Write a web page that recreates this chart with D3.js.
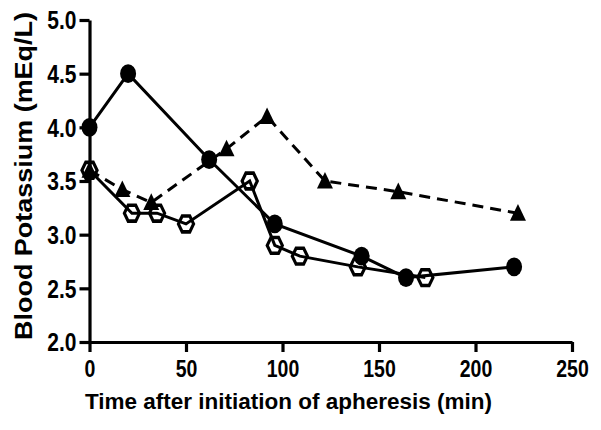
<!DOCTYPE html>
<html><head><meta charset="utf-8">
<script src="https://cdn.jsdelivr.net/npm/d3@7"></script>
<style>body{margin:0;background:#fff}svg{display:block}text{font-family:"Liberation Sans",Arial,sans-serif;font-weight:bold;fill:#000}</style>
</head><body><svg id="c" width="601" height="430"></svg>
<script>
const xTicks = [0, 50, 100, 150, 200, 250];
const yTicks = [2.0, 2.5, 3.0, 3.5, 4.0, 4.5, 5.0];
const circleX = [0, 20, 62, 96, 141, 164, 220];
const circleY = [4.0, 4.5, 3.7, 3.1, 2.8, 2.6, 2.7];
const triX = [0, 17, 32, 71, 92, 122, 160, 222];
const triY = [3.6, 3.42, 3.3, 3.8, 4.1, 3.5, 3.4, 3.2];
const hexX = [0, 22, 35, 50, 83, 96, 109, 139, 174];
const hexY = [3.6, 3.2, 3.2, 3.1, 3.5, 2.9, 2.8, 2.7, 2.6];
const xLabel = "Time after initiation of apheresis (min)";
const yLabel = "Blood Potassium (mEq/L)";

const svg = d3.select("#c");
const x = d3.scaleLinear().domain([0, 250]).range([89.5, 572]);
const y = d3.scaleLinear().domain([2, 5]).range([342, 20]);

// axes
const gx = svg.append("g").attr("transform", `translate(0,${y(2)})`)
  .call(d3.axisBottom(x).tickValues(xTicks).tickSize(10).tickSizeOuter(0).tickFormat(d3.format("d")));
gx.selectAll("text").attr("y", null).attr("dy", null)
  .attr("transform", "translate(0,34.8) scale(1,1.22)").attr("font-size", 19.5);
const gy = svg.append("g").attr("transform", `translate(${x(0)},0)`)
  .call(d3.axisLeft(y).tickValues(yTicks).tickSize(10).tickSizeOuter(0).tickFormat(d3.format(".1f")));
gy.selectAll("text").attr("x", null).attr("dy", null)
  .attr("transform", "translate(-13,8.7) scale(1,1.22)").attr("font-size", 21);
svg.selectAll(".domain, .tick line").attr("stroke", "#000").attr("stroke-width", 3.2);
svg.selectAll(".tick text").attr("fill", "#000").style("font-family", '"Liberation Sans",Arial,sans-serif').style("font-weight", "bold");

// titles
svg.append("text").attr("x", 288.5).attr("y", 408.5).attr("text-anchor", "middle")
  .attr("font-size", 22.5).attr("textLength", 407).attr("lengthAdjust", "spacingAndGlyphs").text(xLabel);
svg.append("text").attr("transform", "translate(31.5,176) rotate(-90)").attr("text-anchor", "middle")
  .attr("font-size", 23).attr("textLength", 328).attr("lengthAdjust", "spacingAndGlyphs").text(yLabel);

const line = d3.line().x(d => x(d[0])).y(d => y(d[1]));
const circ = d3.zip(circleX, circleY), tri = d3.zip(triX, triY), hex = d3.zip(hexX, hexY);

// lines
svg.append("path").datum(circ).attr("d", line).attr("fill", "none").attr("stroke", "#000").attr("stroke-width", 3);
svg.append("path").datum(tri).attr("d", line).attr("fill", "none").attr("stroke", "#000").attr("stroke-width", 3).attr("stroke-dasharray", "11,7");
svg.append("path").datum(hex).attr("d", line).attr("fill", "none").attr("stroke", "#000").attr("stroke-width", 3);

// markers
svg.append("g").selectAll("ellipse").data(circ).join("ellipse")
  .attr("cx", d => x(d[0])).attr("cy", d => y(d[1])).attr("rx", 8).attr("ry", 9.4).attr("fill", "#000");
const triPath = "M0,-7.6L8,6.2L-8,6.2Z";
svg.append("g").selectAll("path").data(tri).join("path")
  .attr("d", triPath).attr("transform", d => `translate(${x(d[0])},${y(d[1])}) scale(1,1.2)`).attr("fill", "#000");
const r = 7.6;
const hexPath = d3.range(6).map(i => { const a = i * Math.PI / 3; return (i ? "L" : "M") + (r * Math.cos(a)).toFixed(2) + "," + (r * Math.sin(a)).toFixed(2); }).join("") + "Z";
svg.append("g").selectAll("path").data(hex).join("path")
  .attr("d", hexPath).attr("transform", d => `translate(${x(d[0])},${y(d[1])}) scale(1,1.2)`)
  .attr("fill", "none").attr("stroke", "#000").attr("stroke-width", 3);
</script></body></html>
